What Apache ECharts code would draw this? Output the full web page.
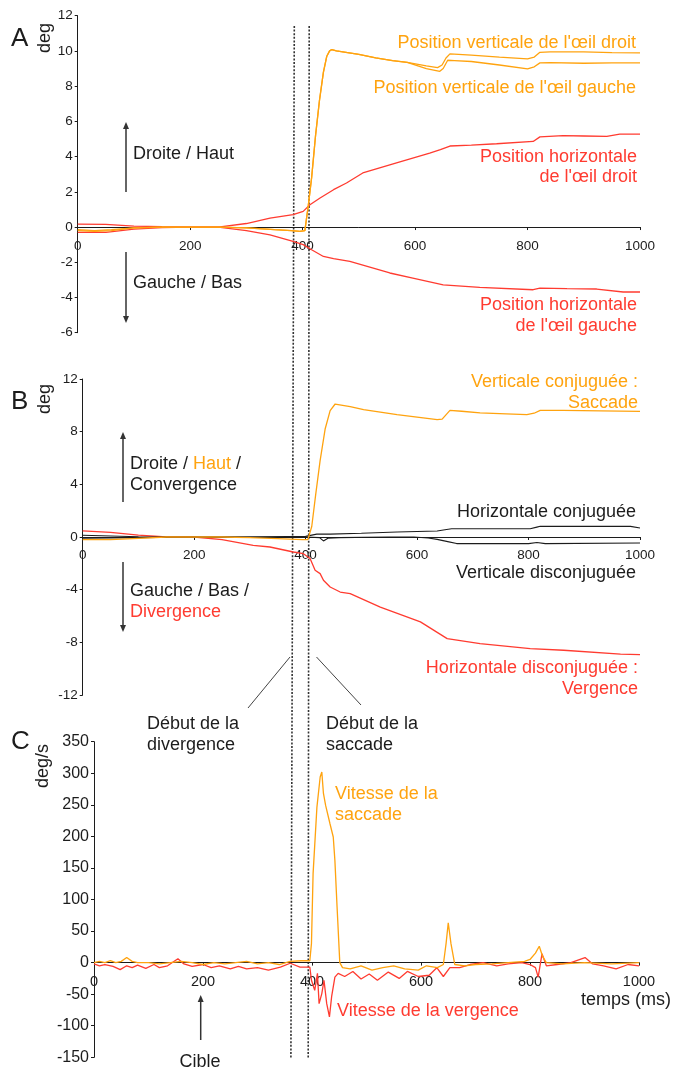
<!DOCTYPE html>
<html><head><meta charset="utf-8">
<script src="https://cdn.jsdelivr.net/npm/echarts@6/dist/echarts.min.js"></script>
<style>html,body{margin:0;padding:0;background:#fff}#c{width:673px;height:1070px}</style>
</head><body><div id="c"></div>
<script>
// ---------- Panel A : positions (deg) ----------
const tVR = [0,30,60,100,150,200,250,300,350,380,395,404,410,416,423,430,437,443,448,452,460,480,500,530,560,586,620,640,648,655,662,700,750,800,812,822,840,900,950,1000];
const vVR = [-0.15,-0.2,-0.15,-0.05,0,0,0,-0.05,-0.15,-0.2,-0.25,-0.2,1.2,2.8,5.2,7.2,8.8,9.7,10.0,10.08,10.0,9.9,9.8,9.6,9.45,9.35,9.15,9.05,9.2,9.6,9.83,9.76,9.65,9.55,9.65,9.92,9.95,9.95,9.9,9.89];
const tVL = [0,30,60,100,150,200,250,300,350,380,395,404,410,416,423,430,437,443,448,452,460,480,500,530,560,586,620,644,650,658,670,700,750,800,812,822,840,900,950,1000];
const vVL = [-0.2,-0.25,-0.2,-0.05,0,0,0,-0.05,-0.15,-0.2,-0.25,-0.2,1.2,2.8,5.2,7.2,8.8,9.7,10.0,10.08,10.0,9.9,9.8,9.6,9.45,9.35,9.0,8.84,9.0,9.47,9.45,9.4,9.2,8.98,9.1,9.32,9.33,9.3,9.32,9.32];
const tHR = [0,50,100,150,200,250,300,342,383,401,413,431,455,478,507,567,626,645,662,700,745,810,822,863,900,941,964,1000];
const vHR = [0.17,0.15,0.05,0.02,0,0,0.2,0.51,0.7,0.89,1.27,1.65,2.12,2.5,3.07,3.64,4.2,4.4,4.6,4.65,4.73,4.86,5.12,5.19,5.17,5.15,5.28,5.28];
const tHL = [0,50,100,150,200,250,300,342,383,401,416,437,455,484,555,596,650,715,810,822,870,923,970,1000];
const vHL = [-0.3,-0.3,-0.12,-0.03,0,0,-0.2,-0.44,-0.82,-1.0,-1.29,-1.67,-1.8,-1.95,-2.61,-2.9,-3.28,-3.43,-3.56,-3.47,-3.5,-3.52,-3.69,-3.69];

// ---------- Panel B : conjugate / disconjugate (deg) ----------
const tCV = [0,50,100,150,200,250,300,350,394,404,411,418,426,435,444,453,480,504,564,600,636,645,659,680,713,760,797,810,821,862,930,1000];
const vCV = [-0.2,-0.2,-0.1,0,0,0,-0.05,-0.12,-0.2,-0.2,0.8,3.2,5.8,8.2,9.6,10.1,9.9,9.67,9.29,9.1,8.91,8.95,9.62,9.55,9.42,9.35,9.29,9.4,9.62,9.62,9.58,9.54];
const tHC = [0,50,100,200,300,400,420,444,500,564,636,650,662,720,803,815,821,900,983,1000];
const vHC = [0.13,0.08,0.02,0,0,0.05,0.22,0.22,0.28,0.38,0.46,0.55,0.63,0.63,0.63,0.75,0.81,0.81,0.81,0.68];
const tVD = [0,100,200,300,400,425,432,440,460,550,594,620,636,655,671,800,815,830,1000];
const vVD = [-0.1,-0.05,0,0,0,-0.05,-0.3,-0.1,-0.05,0,0,-0.08,-0.18,-0.35,-0.5,-0.5,-0.42,-0.5,-0.46];
const tHD = [0,50,100,150,200,250,306,336,378,396,408,417,426,432,444,462,480,534,606,654,713,803,863,965,1000];
const vHD = [0.46,0.35,0.15,0,0,-0.2,-0.63,-0.76,-1.14,-1.27,-1.64,-2.53,-2.78,-3.29,-3.8,-4.18,-4.3,-5.32,-6.45,-7.72,-8.1,-8.48,-8.6,-8.9,-8.93];

// ---------- Panel C : velocities (deg/s) ----------
const tSV = [0,10,20,30,40,50,60,70,80,100,120,140,160,180,200,220,240,260,280,300,320,340,360,380,396,399,402,409,415,418,421,425,433,439,442,446,451,456,470,490,510,530,550,570,595,610,630,641,646,650,655,662,680,700,730,760,790,800,810,817,823,830,860,900,950,1000];
const vSV = [0,2,0,3,0,2,8,2,0,0,-2,0,2,0,-3,0,-2,0,2,-2,0,-3,2,3,3,30,141,246,294,302,268,249,220,199,162,88,0,-8,-10,-5,-12,-8,-5,-10,-12,-5,-8,-3,30,63,30,-3,-5,-3,-2,0,2,5,15,26,10,0,-2,0,-2,0];
const tVV = [0,10,20,35,48,60,70,80,95,110,120,135,154,165,180,200,215,230,250,265,280,300,320,342,360,378,390,396,399,405,410,413,418,422,427,432,436,442,448,460,475,490,505,520,540,560,575,595,615,629,641,653,671,690,714,739,760,785,800,810,815,822,830,850,875,901,915,935,958,980,1000];
const vVV = [-2,-5,-3,-6,-11,-5,-8,-4,-9,-3,-8,-5,6,-2,-6,-3,-8,-5,-10,-6,-10,-8,-12,-7,-1,-7,-7,-7,-28,-44,-17,-65,-49,-28,-65,-86,-54,-23,-17,-22,-14,-26,-18,-28,-15,-25,-14,-22,-20,-8,-22,-8,-8,-3,0,-5,-2,0,-3,-8,-23,14,-5,-3,0,8,-2,-5,-10,-3,-5];

// ---------- Axes ----------
const xTicks = {min:0, max:1000, interval:200};
const yA = {min:-6, max:12, interval:2};
const yB = {min:-12, max:12, interval:4};
const yC = {min:-150, max:350, interval:50};

const ORANGE = '#FFA30F', RED = '#FF3B30', INK = '#1c1c1c';
const FONT = '"Liberation Sans", Arial, sans-serif';
const zip = (t, v) => t.map((x, i) => [x, v[i]]);

const grids = [
  {left:77.7, top:15.7, width:562.3, height:317},
  {left:82.7, top:379, width:557.3, height:316},
  {left:94, top:741.7, width:545, height:315.6}
];
const yRanges = [yA, yB, yC];

function xAxis(i, margin, fs){
  const r = yRanges[i];
  // place the whole axis (line, ticks, labels) on the zero of the value axis
  const off = -grids[i].height * (0 - r.min) / (r.max - r.min);
  return {gridIndex:i, type:'value', position:'bottom', offset:off,
    min:xTicks.min, max:xTicks.max, interval:xTicks.interval,
    axisLine:{onZero:false, lineStyle:{color:INK, width:1}},
    axisTick:{show:true, length:3, lineStyle:{color:INK}},
    axisLabel:{margin:margin, fontSize:fs, color:INK, fontFamily:FONT, showMinLabel:true, showMaxLabel:true,
      formatter:(v)=>String(v)},
    splitLine:{show:false}};
}
function yAxis(i, fs){
  const r = yRanges[i];
  return {gridIndex:i, type:'value', min:r.min, max:r.max, interval:r.interval,
    axisLine:{show:true, onZero:false, lineStyle:{color:INK, width:1}},
    axisTick:{show:true, length:3, lineStyle:{color:INK}},
    axisLabel:{margin:5, fontSize:fs, color:INK, fontFamily:FONT, formatter:(v)=>String(v)},
    splitLine:{show:false}};
}
function line(i, data, color, w){
  return {type:'line', xAxisIndex:i, yAxisIndex:i, data:data, showSymbol:false, symbol:'none',
    lineStyle:{color:color, width:w||1.3}, itemStyle:{color:color}, animation:false, silent:true};
}

// ---------- Annotation helpers ----------
function txt(x, y, s, color, align, size, extra){
  return Object.assign({type:'text', x:x, y:y, silent:true,
    style:{text:s, fill:color, font:(size||18)+'px '+FONT, textAlign:align||'left', textVerticalAlign:'middle'}}, extra||{});
}
function seg(x1,y1,x2,y2,color,w,dash){
  return {type:'line', silent:true, shape:{x1:x1,y1:y1,x2:x2,y2:y2},
    style:{stroke:color, lineWidth:w, lineDash:dash||null}};
}
function arrow(x, yFrom, yTo){
  const dir = yTo < yFrom ? -1 : 1;
  return [seg(x, yFrom, x, yTo - dir*5, '#333', 1.5),
    {type:'polygon', silent:true, shape:{points:[[x, yTo],[x-3, yTo-dir*7],[x+3, yTo-dir*7]]}, style:{fill:'#333'}}];
}

const graphics = [
  seg(294.3, 26, 290.9, 1058, '#333', 1.6, [2,1.6]),
  seg(309.2, 26, 308.2, 1058, '#333', 1.6, [2,1.6]),
  seg(290, 657, 248, 708, '#444', 1),
  seg(316.5, 657, 361, 705, '#444', 1),
  txt(11, 39, 'A', INK, 'left', 26),
  txt(11, 402, 'B', INK, 'left', 26),
  txt(11, 742, 'C', INK, 'left', 26),
  txt(45, 38, 'deg', INK, 'center', 18, {rotation:Math.PI/2}),
  txt(45, 399, 'deg', INK, 'center', 18, {rotation:Math.PI/2}),
  txt(43, 766, 'deg/s', INK, 'center', 18, {rotation:Math.PI/2}),
  txt(636, 43, "Position verticale de l'œil droit", ORANGE, 'right'),
  txt(636, 88, "Position verticale de l'œil gauche", ORANGE, 'right'),
  txt(637, 157, 'Position horizontale', RED, 'right'),
  txt(637, 177, "de l'œil droit", RED, 'right'),
  txt(637, 305, 'Position horizontale', RED, 'right'),
  txt(637, 326, "de l'œil gauche", RED, 'right'),
  txt(133, 154, 'Droite / Haut', INK),
  txt(133, 283, 'Gauche / Bas', INK),
  txt(638, 382, 'Verticale conjuguée :', ORANGE, 'right'),
  txt(638, 403, 'Saccade', ORANGE, 'right'),
  txt(636, 512, 'Horizontale conjuguée', INK, 'right'),
  txt(636, 573, 'Verticale disconjuguée', INK, 'right'),
  txt(638, 668, 'Horizontale disconjuguée :', RED, 'right'),
  txt(638, 689, 'Vergence', RED, 'right'),
  {type:'text', x:130, y:464, silent:true, style:{text:'{k|Droite / }{o|Haut}{k| /}', font:'18px '+FONT, textVerticalAlign:'middle',
    rich:{k:{fill:INK, font:'18px '+FONT}, o:{fill:ORANGE, font:'18px '+FONT}}}},
  txt(130, 485, 'Convergence', INK),
  txt(130, 591, 'Gauche / Bas /', INK),
  txt(130, 612, 'Divergence', RED),
  txt(147, 724, 'Début de la', INK),
  txt(147, 745, 'divergence', INK),
  txt(326, 724, 'Début de la', INK),
  txt(326, 745, 'saccade', INK),
  txt(335, 794, 'Vitesse de la', ORANGE),
  txt(335, 815, 'saccade', ORANGE),
  txt(337, 1011, 'Vitesse de la vergence', RED),
  txt(581, 1000, 'temps (ms)', INK),
  txt(200, 1062, 'Cible', INK, 'center'),
].concat(arrow(126, 192, 122), arrow(126, 252, 323), arrow(123, 502, 432), arrow(123, 562, 632), arrow(200.7, 1040, 995));

const option = {
  animation:false,
  backgroundColor:'#fff',
  textStyle:{fontFamily:FONT},
  grid:grids.map(g => Object.assign({containLabel:false}, g)),
  xAxis:[xAxis(0, 12, 13.5), xAxis(1, 11, 13.5), xAxis(2, 12, 14.5)],
  yAxis:[yAxis(0, 13.5), yAxis(1, 13.5), yAxis(2, 16)],
  series:[
    line(0, zip(tHR,vHR), RED),
    line(0, zip(tHL,vHL), RED),
    line(0, zip(tVL,vVL), ORANGE),
    line(0, zip(tVR,vVR), ORANGE),
    line(1, zip(tHD,vHD), RED),
    line(1, zip(tHC,vHC), INK, 1.1),
    line(1, zip(tVD,vVD), INK, 1.1),
    line(1, zip(tCV,vCV), ORANGE),
    line(2, zip(tVV,vVV), RED),
    line(2, zip(tSV,vSV), ORANGE)
  ],
  graphic:graphics
};
const chart = echarts.init(document.getElementById('c'), null, {renderer:'canvas'});
chart.setOption(option);
</script></body></html>
